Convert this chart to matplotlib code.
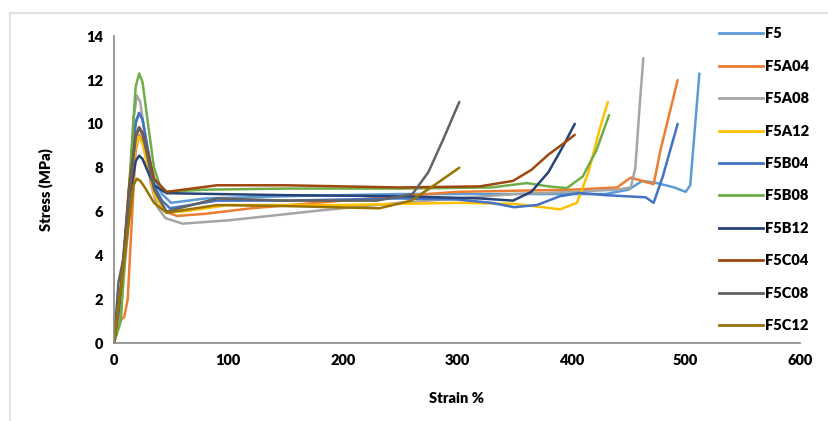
import matplotlib.pyplot as plt
from matplotlib.lines import Line2D

plt.rcParams['font.family'] = ['Lato', 'DejaVu Sans']

# curvas tensao x deformacao
series = ['F5', 'F5A04', 'F5A08', 'F5A12', 'F5B04', 'F5B08', 'F5B12', 'F5C04', 'F5C08', 'F5C12']
cores = ['#5B9BD5', '#ED7D31', '#A5A5A5', '#FFC000', '#4472C4', '#70AD47', '#264478', '#9E480E', '#636363', '#997300']

x_F5 = [0, 8, 15, 19, 22, 25, 29, 35, 42, 50, 80, 150, 250, 350, 400, 430, 450, 462, 475, 490, 500, 504, 512]
y_F5 = [0, 3.0, 8.0, 10.0, 10.5, 10.2, 9.0, 7.5, 6.8, 6.4, 6.6, 6.7, 6.8, 6.8, 6.8, 6.8, 7.0, 7.4, 7.3, 7.1, 6.9, 7.2, 12.3]

x_F5A04 = [0, 5, 9, 12, 16, 19, 22, 25, 29, 35, 45, 55, 80, 120, 200, 300, 400, 440, 452, 462, 472, 478, 493]
y_F5A04 = [0, 1.0, 1.2, 2.0, 6.0, 8.8, 9.5, 9.2, 8.2, 6.8, 6.0, 5.8, 5.9, 6.15, 6.5, 6.9, 7.0, 7.1, 7.55, 7.4, 7.25, 8.8, 12.0]

x_F5A08 = [0, 6, 12, 17, 20, 23, 27, 32, 38, 45, 60, 100, 180, 250, 300, 350, 400, 440, 452, 456, 460, 463]
y_F5A08 = [0, 1.5, 5.0, 10.2, 11.3, 11.0, 9.5, 7.3, 6.2, 5.7, 5.45, 5.6, 6.05, 6.4, 6.6, 6.8, 6.9, 7.0, 7.1, 8.0, 11.0, 13.0]

x_F5A12 = [0, 6, 13, 19, 22, 25, 29, 35, 45, 60, 100, 200, 300, 350, 375, 390, 405, 415, 425, 432]
y_F5A12 = [0, 2.0, 6.5, 9.0, 9.4, 9.1, 8.2, 6.8, 6.0, 6.0, 6.3, 6.3, 6.4, 6.35, 6.2, 6.1, 6.4, 7.8, 9.8, 11.0]

x_F5B04 = [0, 6, 13, 19, 22, 25, 29, 35, 42, 49, 90, 150, 250, 300, 330, 350, 370, 390, 407, 430, 465, 472, 480, 493]
y_F5B04 = [0, 2.0, 7.0, 10.1, 10.5, 10.2, 9.0, 7.2, 6.5, 6.15, 6.5, 6.5, 6.6, 6.55, 6.4, 6.2, 6.3, 6.7, 6.85, 6.75, 6.65, 6.4, 7.6, 10.0]

x_F5B08 = [0, 6, 13, 19, 22, 25, 29, 35, 40, 45, 80, 150, 250, 330, 361, 380, 396, 410, 422, 433]
y_F5B08 = [0, 1.0, 7.0, 11.7, 12.3, 11.9, 10.3, 8.0, 7.2, 6.9, 7.0, 7.05, 7.05, 7.1, 7.3, 7.15, 7.07, 7.6, 8.8, 10.4]

x_F5B12 = [0, 6, 13, 19, 22, 25, 29, 35, 46, 90, 150, 250, 320, 349, 365, 380, 393, 403]
y_F5B12 = [0, 2.5, 6.5, 8.3, 8.55, 8.4, 7.9, 7.2, 6.84, 6.8, 6.75, 6.7, 6.6, 6.5, 6.9, 7.8, 9.0, 10.0]

x_F5C04 = [0, 6, 13, 19, 22, 25, 29, 35, 46, 90, 150, 250, 320, 349, 365, 380, 393, 403]
y_F5C04 = [0, 2.5, 7.0, 9.5, 9.85, 9.6, 8.8, 7.5, 6.9, 7.2, 7.2, 7.1, 7.15, 7.4, 7.9, 8.6, 9.1, 9.5]

x_F5C08 = [0, 4, 8, 14, 19, 22, 25, 29, 35, 46, 90, 150, 230, 261, 275, 288, 302]
y_F5C08 = [0, 2.8, 3.8, 7.0, 9.4, 9.8, 9.5, 8.6, 7.0, 6.0, 6.6, 6.5, 6.5, 6.8, 7.8, 9.3, 11.0]

x_F5C12 = [0, 6, 13, 17, 20, 23, 27, 35, 46, 90, 150, 232, 260, 280, 302]
y_F5C12 = [0, 2.5, 5.5, 7.2, 7.5, 7.4, 7.1, 6.4, 5.95, 6.3, 6.25, 6.15, 6.5, 7.2, 8.0]

dados_x = [x_F5, x_F5A04, x_F5A08, x_F5A12, x_F5B04, x_F5B08, x_F5B12, x_F5C04, x_F5C08, x_F5C12]
dados_y = [y_F5, y_F5A04, y_F5A08, y_F5A12, y_F5B04, y_F5B08, y_F5B12, y_F5C04, y_F5C08, y_F5C12]

PESO = 'heavy'

fig = plt.figure(figsize=(8.29, 4.21), dpi=100, facecolor='w')
ax = fig.add_axes([0.1375, 0.185, 0.8275, 0.729])

for nome, cor, xs, ys in zip(series, cores, dados_x, dados_y):
    ax.plot(xs, ys, color=cor, linewidth=1.8, label=nome, solid_joinstyle='round', solid_capstyle='round')

ax.set_xlim(0, 600)
ax.set_ylim(0, 14)
ax.set_xticks(range(0, 601, 100))
ax.set_yticks(range(0, 15, 2))
for s in ['top', 'right']:
    ax.spines[s].set_visible(False)
for s in ['left', 'bottom']:
    ax.spines[s].set_color('#888888')
    ax.spines[s].set_linewidth(1.2)
ax.tick_params(length=0, labelsize=10.5, pad=8)
for lbl in ax.get_xticklabels() + ax.get_yticklabels():
    lbl.set_fontweight(PESO)
ax.set_xlabel('Strain %', fontsize=10.5, fontweight=PESO, labelpad=18)
ax.set_ylabel('Stress (MPa)', fontsize=10.5, fontweight=PESO, labelpad=24)

# legenda a direita (estilo Excel)
handles = [Line2D([0], [0], color=c, linewidth=2) for c in cores]
leg = fig.legend(handles, series, loc='upper left', bbox_to_anchor=(0.852, 0.966), frameon=False,
                 fontsize=10.5, handlelength=3.0, labelspacing=1.33, handletextpad=0.15)
for t in leg.get_texts():
    t.set_fontweight(PESO)

# borda clara do quadro
fig.add_artist(Line2D([0.012, 1.0], [0.969, 0.969], color='#dddddd', linewidth=1.2, transform=fig.transFigure))
fig.add_artist(Line2D([0.012, 0.012], [0.0, 0.969], color='#dddddd', linewidth=1.2, transform=fig.transFigure))

fig.savefig('out.png', dpi=100)
